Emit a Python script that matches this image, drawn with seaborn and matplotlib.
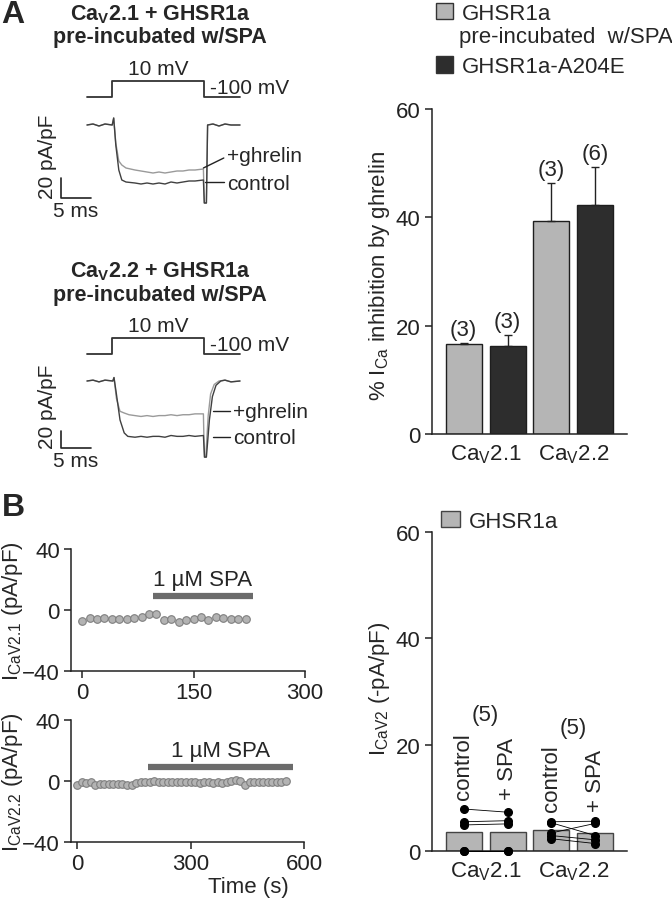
import matplotlib
matplotlib.use("Agg")
import pandas as pd
import matplotlib.pyplot as plt
from matplotlib.patches import Patch
import seaborn as sns

# ---------------- data ----------------
# voltage protocol (ms, mV)
step_t = [0, 4.2, 4.2, 19.5, 19.5, 25.5]
step_v = [-100, -100, 10, 10, -100, -100]

# CaV2.1 current traces (ms, pA/pF)
a1_t = [0, 1, 2, 3, 4.2, 4.45, 4.8, 5.3, 5.8, 6.5, 8, 9, 10, 11, 12, 13, 14, 15, 16, 17,
        18, 19.4, 19.55, 19.9, 20.1, 21, 22, 23, 24, 25.5]
a1_ctrl = [0, 1, -1, 1, 0, 7, -20, -45, -55, -57, -58, -59, -58, -59, -58, -59, -57, -58, -57, -56,
           -56, -55, -78, -78, 0, 1, -1, 1, 0, 0]
a1_ghr = [0, 1, -1, 1, 0, 7, -18, -36, -40, -43, -45, -46, -47, -48, -47, -48, -47, -46, -46, -45,
          -45, -44, -78, -78, 0, 1, -1, 1, 0, 0]

# CaV2.2 current traces (ms, pA/pF)
a2_ctrl_t = [0, 1, 2, 3, 4.3, 4.5, 4.9, 5.5, 6.2, 6.8, 8, 9, 10, 11, 12, 13, 14, 15, 16, 17,
             18, 19.4, 19.6, 19.9, 20.4, 20.9, 21.5, 22.3, 23, 24, 25.5]
a2_ctrl = [0, 1, -1, 1, 0, 4, -15, -45, -60, -64, -65, -64, -65, -64, -64, -65, -63, -64, -64, -63,
           -64, -63, -88, -88, -45, -18, -5, 0, 1, -1, 0]
a2_ghr_t = [0, 1, 2, 3, 4.3, 4.5, 4.9, 5.5, 6.2, 7, 8, 9, 10, 11, 12, 13, 14, 15, 16, 17,
            18, 19.4, 19.55, 19.8, 20.2, 20.6, 21.2, 22, 23, 24, 25.5]
a2_ghr = [0, 1, -1, 1, 0, 4, -20, -35, -37, -39, -40, -41, -40, -41, -40, -40, -39, -40, -39, -39,
          -38, -38, -88, -88, -40, -15, -4, 0, 1, -1, 0]

# % inhibition by ghrelin
channels = ["Ca$_\\mathrm{V}$2.1", "Ca$_\\mathrm{V}$2.2"]
receptors = ["GHSR1a", "GHSR1a-A204E"]
spa_mean = [16.6, 39.4]
spa_sem = [0.2, 6.9]
spa_n = [3, 3]
a204e_mean = [16.3, 42.3]
a204e_sem = [2.0, 7.0]
a204e_n = [3, 6]

# time courses with 1 uM SPA (s, pA/pF)
t21 = [0, 10, 20, 30, 40, 50, 60, 70, 80, 90, 100, 110, 120, 130, 140, 150, 160, 170, 180,
       190, 200, 210, 220]
i21 = [-7.1, -5.1, -5.8, -5.1, -6.2, -6.2, -6.2, -5.1, -4.4, -2.9, -2.7, -6.7, -5.6, -8.0,
       -6.7, -5.8, -4.4, -6.7, -4.4, -5.1, -5.8, -6.2, -6.2]
spa21 = [95, 230]
t22 = [0, 12, 24, 36, 48, 60, 72, 84, 96, 108, 120, 132, 144, 156, 168, 180, 192, 204, 216,
       228, 240, 252, 264, 276, 288, 300, 312, 324, 336, 348, 360, 372, 384, 396, 408, 420,
       432, 444, 456, 468, 480, 492, 504, 516, 528, 540, 552]
i22 = [-2.8, -0.9, -1.5, -0.4, -2.4, -2.2, -2.2, -2.2, -2.2, -1.8, -2.0, -2.6, -2.6, -1.5,
       -0.6, -0.4, -0.9, 0.2, -0.4, -0.6, -0.6, -0.6, -0.8, -0.6, -0.9, -0.6, -0.4, -1.5,
       -0.8, -0.9, -1.1, -0.6, -1.3, -0.9, 0.3, 0.4, 0.2, -2.6, -0.6, -0.9, -0.9, -0.6,
       -0.9, -0.6, -0.6, -0.4, 0.0]
spa22 = [188, 572]

# current density, paired cells (-pA/pF)
cav21_ctrl = [0, 0, 4.9, 5.5, 7.9]
cav21_spa = [0, 0, 5.1, 5.7, 7.3]
cav22_ctrl = [5.5, 5.3, 3.4, 2.9, 2.3]
cav22_spa = [5.6, 2.9, 5.2, 2.1, 1.4]
conditions = ["control", "+ SPA"]

# ---------------- style ----------------
sns.set_style("ticks")
plt.rcParams['font.family'] = ['Liberation Sans', 'DejaVu Sans']
plt.rcParams['mathtext.fontset'] = 'custom'
plt.rcParams['mathtext.rm'] = 'Liberation Sans'
plt.rcParams['mathtext.it'] = 'Liberation Sans:italic'
plt.rcParams['mathtext.bf'] = 'Liberation Sans:bold'
plt.rcParams['font.size'] = 15
plt.rcParams['axes.linewidth'] = 1.1
plt.rcParams['axes.edgecolor'] = '#222222'
plt.rcParams['xtick.color'] = '#222222'
plt.rcParams['ytick.color'] = '#222222'
plt.rcParams['xtick.labelsize'] = 16
plt.rcParams['ytick.labelsize'] = 16

LIGHT = '#b5b5b5'
DARK = '#2d2d2d'
W, H = 672, 903
fig = plt.figure(figsize=(W / 100, H / 100), dpi=100)


def box(l, t, r, b):
    return fig.add_axes([l / W, 1 - b / H, (r - l) / W, (b - t) / H])


def trace_panel(dy, ppu, base, title, ct, ci, gt, gi, g_lead, c_lead, lab_t, g_y, c_y, sb):
    fig.text(160 / W, 1 - (15 + dy) / H, title + " + GHSR1a", weight='bold',
             ha='center', va='center', fontsize=15.5)
    fig.text(160 / W, 1 - (38 + dy) / H, "pre-incubated w/SPA", weight='bold',
             ha='center', va='center', fontsize=15.5)
    xl = ((40 - 87) / 6, (330 - 87) / 6)
    axv = box(40, 55 + dy, 330, 110 + dy)
    axv.set_xlim(*xl)
    axv.set_ylim(-100 - 12 * 6.875, 10 + 27 * 6.875)
    sns.lineplot(x=step_t, y=step_v, sort=False, estimator=None, color='#333333', lw=1.3, ax=axv)
    axv.annotate("10 mV", ((step_t[1] + step_t[3]) / 2, 10), xytext=(0, 2),
                 textcoords='offset points', ha='center', va='bottom', fontsize=15)
    axv.annotate("-100 mV", (step_t[3], -100), xytext=(4, 7), textcoords='offset points',
                 ha='left', va='center', fontsize=15)
    axv.axis('off')

    axi = box(40, 110 + dy, 330, 235 + dy)
    axi.set_xlim(*xl)
    axi.set_ylim(-(235 + dy - base) / ppu, (base - 110 - dy) / ppu)
    sns.lineplot(x=gt, y=gi, sort=False, estimator=None, color='#9a9a9a', lw=1.0, ax=axi)
    sns.lineplot(x=ct, y=ci, sort=False, estimator=None, color='#404040', lw=1.0, ax=axi)
    axi.plot(g_lead[0], g_lead[1], color='#222222', lw=1)
    axi.plot(c_lead[0], c_lead[1], color='#222222', lw=1)
    axi.text(lab_t, g_y, "+ghrelin", ha='left', va='center', fontsize=15)
    axi.text(lab_t, c_y, "control", ha='left', va='center', fontsize=15)
    # scale bar 20 pA/pF, 5 ms
    st = -4.33
    axi.plot([st, st, st + 5], [sb + 20, sb, sb], color='#222222', lw=1.2)
    axi.annotate("20 pA/pF", (st, sb), xytext=(-3, 0), textcoords='offset points',
                 rotation=90, ha='right', va='bottom', fontsize=15)
    axi.annotate("5 ms", (st + 2.5, sb), xytext=(0, -2), textcoords='offset points',
                 ha='center', va='top', fontsize=15)
    axi.axis('off')


trace_panel(0, 1.0, 126, "Ca$_\\mathbf{V}$2.1", a1_t, a1_ctrl, a1_t, a1_ghr,
            ([19.4, 22.8], [-43, -33]), ([19.7, 22.8], [-57, -57]), 23.3, -31, -59, -73)
trace_panel(257, 0.865, 382, "Ca$_\\mathbf{V}$2.2", a2_ctrl_t, a2_ctrl, a2_ghr_t, a2_ghr,
            ([21, 23.8], [-35, -35]), ([21, 23.8], [-65, -65]), 24.3, -35, -65, -77.5)

fig.text(13 / W, 1 - 15 / H, "A", weight='bold', fontsize=23, ha='center', va='center')
fig.text(13 / W, 1 - 508 / H, "B", weight='bold', fontsize=23, ha='center', va='center')

# ---------------- A right: bar chart ----------------
ax = box(432, 110, 627, 435)
dfa = pd.DataFrame({
    "channel": channels * 2,
    "receptor": [receptors[0]] * 2 + [receptors[1]] * 2,
    "inhib": spa_mean + a204e_mean,
    "sem": spa_sem + a204e_sem,
    "n": spa_n + a204e_n,
})
sns.barplot(data=dfa, x="channel", y="inhib", hue="receptor", hue_order=receptors,
            palette=[LIGHT, DARK], width=1.0, gap=0.18, edgecolor='#1e1e1e', linewidth=1,
            errorbar=None, legend=False, ax=ax)
for _, r in dfa.iterrows():
    x = channels.index(r["channel"]) + (-0.25 if r["receptor"] == receptors[0] else 0.25)
    ax.errorbar(x, r["inhib"], yerr=[[0], [r["sem"]]], fmt='none', ecolor='#222222',
                elinewidth=1, capsize=3, capthick=1)
    ax.annotate(f"({r['n']})", (x, r["inhib"] + r["sem"]), xytext=(0, 2),
                textcoords='offset points', ha='center', va='bottom', fontsize=16)
ax.set_xlim(-0.61, 1.61)
ax.set_ylim(0, 60)
ax.set_yticks([0, 20, 40, 60])
ax.tick_params(axis='x', length=0, pad=6)
ax.tick_params(axis='y', length=5, width=1.1)
ax.set_xlabel("")
ax.set_ylabel("% I$_\\mathrm{Ca}$ inhibition by ghrelin", fontsize=16)
ax.yaxis.set_label_coords(-0.205, 0.49)
sns.despine(ax=ax)
fig.legend(handles=[Patch(facecolor=LIGHT, edgecolor='#333333', label="GHSR1a"),
                    Patch(facecolor=DARK, edgecolor='#333333', label="GHSR1a-A204E")],
           loc='upper left', bbox_to_anchor=(436 / W, 1 - 4 / H), frameon=False,
           handlelength=0.75, handleheight=0.75, handletextpad=0.4, labelspacing=1.45,
           borderpad=0, borderaxespad=0, fontsize=16)
fig.text(459 / W, 1 - 37 / H, "pre-incubated  w/SPA", ha='left', va='center', fontsize=16)

# ---------------- B left: time courses ----------------
def time_course(top, bottom, right, t, i, spa, xlim, xticks, ylabel):
    axt = box(71, top, right, bottom)
    sns.scatterplot(x=t, y=i, color='#b3b3b3', edgecolor='#7f7f7f', s=30, linewidth=0.8,
                    ax=axt, zorder=3)
    axt.plot(spa, [9.5, 9.5], color='#6b6b6b', lw=4.5, solid_capstyle='butt')
    axt.annotate("1 µM SPA", (sum(spa) / 2, 9.5), xytext=(0, 4), textcoords='offset points',
                 ha='center', va='bottom', fontsize=16)
    axt.set_xlim(*xlim)
    axt.set_ylim(-40, 40)
    axt.set_yticks([-40, 0, 40])
    axt.set_xticks(xticks)
    axt.tick_params(length=5, width=1.1, pad=3)
    axt.set_ylabel(ylabel, fontsize=16)
    axt.yaxis.set_label_coords(-0.197, 0.5)
    sns.despine(ax=axt)
    return axt


time_course(550, 672, 305, t21, i21, spa21, (-15, 300), [0, 150, 300],
            "I$_\\mathrm{CaV2.1}$ (pA/pF)")
axb = time_course(721, 843, 304, t22, i22, spa22, (-16, 600), [0, 300, 600],
                  "I$_\\mathrm{CaV2.2}$ (pA/pF)")
axb.set_xlabel("Time (s)", fontsize=16)
axb.xaxis.set_label_coords(0.76, -0.28)

# ---------------- B right: current density ----------------
ax = box(432, 533, 627, 852)
pairs = {channels[0]: (cav21_ctrl, cav21_spa), channels[1]: (cav22_ctrl, cav22_spa)}
rows = []
for ch, (c, s) in pairs.items():
    rows += [(ch, conditions[0], v) for v in c] + [(ch, conditions[1], v) for v in s]
dfb = pd.DataFrame(rows, columns=["channel", "condition", "value"])
sns.barplot(data=dfb, x="channel", y="value", hue="condition", hue_order=conditions,
            palette=[LIGHT, LIGHT], width=1.0, gap=0.18, edgecolor='#444444', linewidth=1,
            errorbar=None, legend=False, ax=ax)
for ci, (ch, (c, s)) in enumerate(pairs.items()):
    for a, b in zip(c, s):
        ax.plot([ci - 0.25, ci + 0.25], [a, b], color='black', lw=0.6, marker='o',
                ms=5.5, clip_on=False, zorder=4)
    top = max(c + s) + 1.9
    ax.text(ci - 0.25, top, "control", rotation=90, ha='center', va='bottom', fontsize=16)
    ax.text(ci + 0.25, top, "+ SPA", rotation=90, ha='center', va='bottom', fontsize=16)
    ax.text(ci, top + 15.8, f"({len(c)})", ha='center', va='center', fontsize=16)
ax.set_xlim(-0.61, 1.61)
ax.set_ylim(0, 60)
ax.set_yticks([0, 20, 40, 60])
ax.tick_params(axis='x', length=0, pad=6)
ax.tick_params(axis='y', length=5, width=1.1)
ax.set_xlabel("")
ax.set_ylabel("I$_\\mathrm{CaV2}$ (-pA/pF)", fontsize=16)
ax.yaxis.set_label_coords(-0.205, 0.51)
sns.despine(ax=ax)
ax.legend(handles=[Patch(facecolor=LIGHT, edgecolor='#444444', label="GHSR1a")],
          loc='center left', bbox_to_anchor=(0.046, 1.034), frameon=False,
          handlelength=0.85, handleheight=0.75, handletextpad=0.4, borderpad=0,
          borderaxespad=0, fontsize=16)

fig.savefig("out.png", dpi=100)
